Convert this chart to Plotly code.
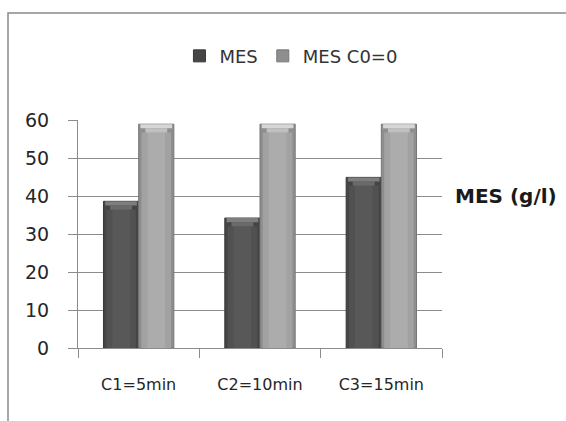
import plotly.graph_objects as go

# Suspended solids (MES) per sampling interval
categories = ["C1=5min", "C2=10min", "C3=15min"]
mes = [38.6, 34.2, 44.9]
mes_c0 = [58.9, 58.9, 58.9]

FONT = "DejaVu Sans"
BAR_W = 0.29   # width of one bar, in category units
CAP = 2.2      # height of the bevelled top cap, in data units

fig = go.Figure()


def layer(name, y, width, offset, color, base=None):
    fig.add_trace(go.Bar(
        x=categories, y=y, base=base, width=width, offset=offset,
        marker=dict(color=color, line=dict(width=0)),
        showlegend=False, legendgroup=name, hoverinfo="skip",
    ))


def shaded_bars(name, values, offset, shades, outline):
    """One series drawn as layered bars to give a rounded, bevelled look."""
    edge, body, core, cap_low, cap_high = shades
    inner = [v - CAP for v in values]
    upper = [v - CAP / 2 for v in values]
    half = [CAP / 2] * len(values)
    fig.add_trace(go.Bar(
        name=name, x=categories, y=values, width=BAR_W, offset=offset,
        marker=dict(color=edge, line=dict(color=outline, width=1)),
        showlegend=True, legendgroup=name,
    ))
    layer(name, inner, BAR_W * 0.84, offset + BAR_W * 0.08, body)
    layer(name, inner, BAR_W * 0.5, offset + BAR_W * 0.25, core)
    layer(name, half, BAR_W * 0.62, offset + BAR_W * 0.19, cap_low, base=inner)
    layer(name, half, BAR_W * 0.9, offset + BAR_W * 0.05, cap_high, base=upper)


shaded_bars("MES", mes, -BAR_W,
            ("#454545", "#515151", "#585858", "#6a6a6a", "#7e7e7e"), "#383838")
shaded_bars("MES C0=0", mes_c0, 0.0,
            ("#8e8e8e", "#a2a2a2", "#acacac", "#c0c0c0", "#d6d6d6"), "#777777")

grid = "#8c8c8c"
fig.update_layout(
    width=566, height=421,
    margin=dict(l=78, r=124, t=120, b=73),
    paper_bgcolor="white", plot_bgcolor="white",
    barmode="overlay",
    font=dict(family=FONT, color="#262626"),
    legend=dict(
        orientation="h", x=0.585, xanchor="center", y=1.28, yanchor="middle",
        font=dict(family=FONT, size=18, color="#333333"),
        itemclick=False, bgcolor="rgba(0,0,0,0)",
    ),
    xaxis=dict(
        type="category", range=[-0.5, 2.5],
        showline=True, linecolor=grid, linewidth=1,
        ticks="outside", tickson="boundaries", ticklen=9, tickcolor=grid,
        showgrid=False, ticklabelstandoff=22,
        tickfont=dict(family=FONT, size=16, color="#262626"),
    ),
    yaxis=dict(
        range=[0, 60], dtick=10,
        showline=True, linecolor=grid, linewidth=1,
        ticks="outside", ticklen=9, tickcolor=grid,
        showgrid=True, gridcolor=grid, gridwidth=1, zeroline=False,
        ticklabelstandoff=15,
        tickfont=dict(family=FONT, size=19, color="#262626"),
    ),
    shapes=[dict(
        type="rect", xref="paper", yref="paper",
        x0=-0.1923, x1=1.379, y0=-0.404, y1=1.469,
        line=dict(color="#8a8a8a", width=1.5), fillcolor="rgba(0,0,0,0)", layer="below",
    )],
    annotations=[dict(
        text="<b>MES (g/l)</b>", xref="paper", yref="paper",
        x=1.03, xanchor="left", y=0.667, yanchor="middle", showarrow=False,
        font=dict(family=FONT, size=20, color="#1a1a1a"),
    )],
)

fig.write_html("out.html")
